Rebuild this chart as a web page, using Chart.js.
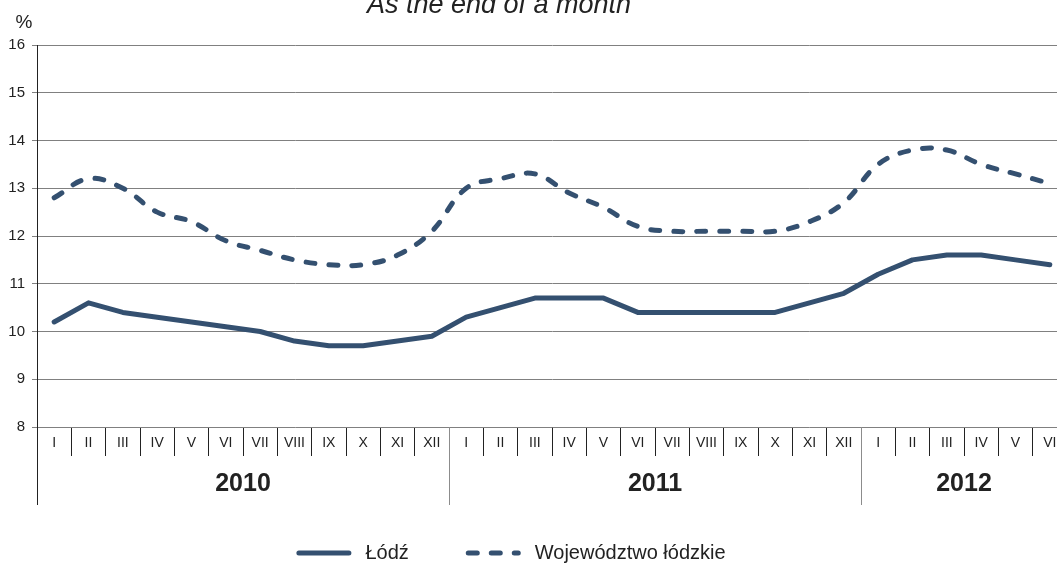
<!DOCTYPE html>
<html>
<head>
<meta charset="utf-8">
<script src="https://cdn.jsdelivr.net/npm/chart.js@4.4.0/dist/chart.umd.min.js"></script>
<style>
html, body { margin: 0; padding: 0; background: #fff; overflow: hidden; }
#wrap { width: 1068px; height: 568px; }
</style>
</head>
<body>
<div id="wrap"><canvas id="chart" width="1068" height="568"></canvas></div>
<script>
const months = ['I', 'II', 'III', 'IV', 'V', 'VI', 'VII', 'VIII', 'IX', 'X', 'XI', 'XII'];
const years = ['2010', '2011', '2012'];
const monthsPerYear = [12, 12, 6];

const lodz = [10.2, 10.6, 10.4, 10.3, 10.2, 10.1, 10.0, 9.8, 9.7, 9.7, 9.8, 9.9,
              10.3, 10.5, 10.7, 10.7, 10.7, 10.4, 10.4, 10.4, 10.4, 10.4, 10.6, 10.8,
              11.2, 11.5, 11.6, 11.6, 11.5, 11.4];
const wojewodztwo = [12.8, 13.2, 13.0, 12.5, 12.3, 11.9, 11.7, 11.5, 11.4, 11.4, 11.6, 12.1,
                     13.0, 13.2, 13.3, 12.9, 12.6, 12.2, 12.1, 12.1, 12.1, 12.1, 12.3, 12.7,
                     13.5, 13.8, 13.8, 13.5, 13.3, 13.1];

const lineColor = '#345070';
const fontFamily = '"Liberation Sans", Arial, sans-serif';
const titleX = 499;
const legendX = 511;

let labels = [];
monthsPerYear.forEach(n => { labels = labels.concat(months.slice(0, n)); });

const extras = {
    id: 'extras',
    afterDraw(chart) {
        const ctx = chart.ctx;
        const area = chart.chartArea;
        const x = chart.scales.x;
        const cell = x.width / labels.length;
        const axisX = Math.round(x.left) + 0.5;
        ctx.save();

        // left axis continues under the month row
        ctx.strokeStyle = '#222';
        ctx.lineWidth = 1;
        ctx.beginPath();
        ctx.moveTo(axisX, area.bottom);
        ctx.lineTo(axisX, 505);
        ctx.stroke();

        // years
        let start = 0;
        years.forEach((yr, k) => {
            const end = start + monthsPerYear[k];
            const x0 = x.left + start * cell;
            const x1 = x.left + end * cell;
            if (k > 0) {
                ctx.strokeStyle = '#8c8c8c';
                ctx.beginPath();
                ctx.moveTo(Math.round(x0) + 0.5, area.bottom);
                ctx.lineTo(Math.round(x0) + 0.5, 505);
                ctx.stroke();
            }
            ctx.fillStyle = '#222';
            ctx.font = 'bold 25px ' + fontFamily;
            ctx.textAlign = 'center';
            ctx.textBaseline = 'middle';
            ctx.fillText(yr, (x0 + x1) / 2, 484);
            start = end;
        });

        // title and unit
        ctx.fillStyle = '#222';
        ctx.font = 'italic 27px ' + fontFamily;
        ctx.textAlign = 'center';
        ctx.textBaseline = 'alphabetic';
        ctx.fillText('As the end of a month', titleX, 13);
        ctx.font = '19px ' + fontFamily;
        ctx.fillText('%', 24, 28);

        // legend
        const sample = 50, gap = 14, itemGap = 57;
        ctx.font = '20px ' + fontFamily;
        const ds = chart.data.datasets;
        let total = 0;
        ds.forEach((d, i) => {
            total += sample + 5 + gap + ctx.measureText(d.label).width;
            if (i < ds.length - 1) total += itemGap;
        });
        let cx = legendX - total / 2;
        const ly = 553;
        ds.forEach(d => {
            ctx.strokeStyle = d.borderColor;
            ctx.lineWidth = d.borderWidth;
            ctx.lineCap = 'round';
            ctx.setLineDash(d.borderDash || []);
            ctx.beginPath();
            ctx.moveTo(cx + 2.5, ly);
            ctx.lineTo(cx + 2.5 + sample, ly);
            ctx.stroke();
            ctx.setLineDash([]);
            cx += sample + 5 + gap;
            ctx.fillStyle = '#222';
            ctx.textAlign = 'left';
            ctx.textBaseline = 'middle';
            ctx.fillText(d.label, cx, ly);
            cx += ctx.measureText(d.label).width + itemGap;
        });
        ctx.restore();
    }
};

new Chart(document.getElementById('chart'), {
    type: 'line',
    data: {
        labels: labels,
        datasets: [{
            label: 'Łódź',
            data: lodz,
            borderColor: lineColor,
            borderWidth: 5,
            borderCapStyle: 'round',
            borderJoinStyle: 'round',
            pointRadius: 0,
            tension: 0,
            fill: false
        }, {
            label: 'Województwo łódzkie',
            data: wojewodztwo,
            borderColor: lineColor,
            borderWidth: 5,
            borderDash: [9, 14],
            borderCapStyle: 'round',
            borderJoinStyle: 'round',
            pointRadius: 0,
            tension: 0.4,
            fill: false
        }]
    },
    options: {
        responsive: false,
        animation: false,
        devicePixelRatio: 1,
        layout: { padding: { top: 45, left: 0, right: 1, bottom: 0 } },
        plugins: {
            legend: { display: false },
            tooltip: { enabled: false }
        },
        scales: {
            x: {
                offset: true,
                grid: {
                    offset: true,
                    drawOnChartArea: false,
                    drawTicks: true,
                    tickLength: 29,
                    color: '#222'
                },
                border: { display: false },
                ticks: {
                    autoSkip: false,
                    maxRotation: 0,
                    padding: -21,
                    color: '#222',
                    font: { family: fontFamily, size: 14 }
                },
                afterFit(scale) { scale.height = 141; }
            },
            y: {
                min: 8,
                max: 16,
                ticks: {
                    stepSize: 1,
                    padding: 7,
                    color: '#222',
                    font: { family: fontFamily, size: 15 }
                },
                grid: {
                    color: '#808080',
                    tickLength: 5
                },
                border: { color: '#222' },
                afterFit(scale) { scale.width = 37; }
            }
        }
    },
    plugins: [extras]
});
</script>
</body>
</html>
